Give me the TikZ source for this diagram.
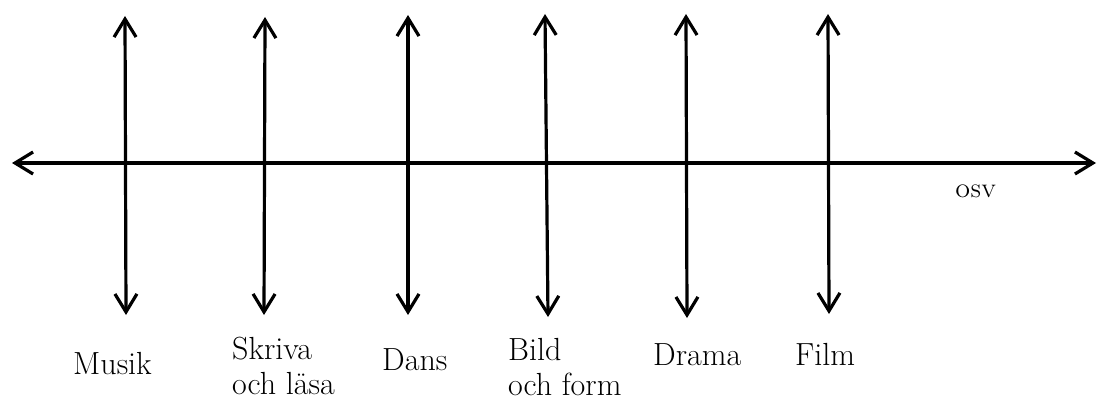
\documentclass[tikz,border=0pt]{standalone}
\usetikzlibrary{arrows.meta}
\begin{document}
\begin{tikzpicture}[x=1pt,y=-1pt,
  axis/.style={line width=3.2pt,{Straight Barb[length=18pt,width=22pt,line width=3.2pt]}-{Straight Barb[length=18pt,width=22pt,line width=3.2pt]}},
  lbl/.style={anchor=base west,inner sep=0pt,font=\fontsize{32}{35}\selectfont,align=left},
  small/.style={anchor=base west,inner sep=0pt,font=\fontsize{24}{28}\selectfont}]
\useasboundingbox (0,0) rectangle (1099,401);
% horizontal axis
\coordinate (hl) at (12,163);
\coordinate (hr) at (1096,163);
\draw[axis] (hl) -- (hr);
% vertical arrows
\coordinate (a1t) at (125,16);  \coordinate (a1b) at (126,315);
\coordinate (a2t) at (265,17);  \coordinate (a2b) at (264,315);
\coordinate (a3t) at (408,15);  \coordinate (a3b) at (408,315);
\coordinate (a4t) at (545,14);  \coordinate (a4b) at (548,317);
\coordinate (a5t) at (686,14);  \coordinate (a5b) at (687,318);
\coordinate (a6t) at (828,14);  \coordinate (a6b) at (829,314);
\foreach \i in {1,...,6} \draw[axis] (a\i t) -- (a\i b);
% labels
\node[lbl] (musik) at (73,374) {Musik};
\node[lbl] (skriva) at (232,394) {Skriva\\och läsa};
\node[lbl] (dans) at (382,370) {Dans};
\node[lbl] (bild) at (508,395) {Bild\\och form};
\node[lbl] (drama) at (653,365) {Drama};
\node[lbl] (film) at (795,365) {Film};
\node[small] (osv) at (955,197) {\textsc{osv}};
\end{tikzpicture}
\end{document}
